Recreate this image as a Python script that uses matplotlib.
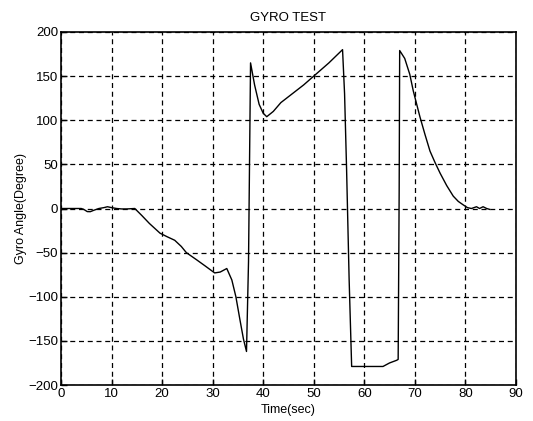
import matplotlib
matplotlib.use("Agg")
import matplotlib.pyplot as plt

# gyro angle trace
time_s = [0, 2, 4, 4.5, 5.2, 5.8, 6.5, 7.5, 8.5, 9.2, 10, 11, 12, 13, 14.6,
          16, 17.5, 19.6, 21, 22.5, 23.8, 24.8, 26.8, 28.5, 30.4, 31.5, 32.8,
          33.8, 34.6, 35.4, 36.1, 36.7, 37.1, 37.5, 38.3, 39.2, 40.0, 40.7,
          42, 43.5, 45.3, 48, 50.6, 53, 55.7, 56.1, 56.5, 57.0, 57.5, 60,
          63.7, 65, 66.4, 66.7, 66.9, 67.0, 68.0, 69.0, 69.7, 71.0, 72.0,
          73.0, 74.0, 75.0, 76.3, 77.6, 78.6, 79.6, 80.4, 81.2, 81.7, 82.2,
          82.8, 83.5, 84.2, 84.8]
angle_deg = [0, 0, 0, -1, -3.5, -3.6, -2, 0, 1, 2, 1, 0, -0.5, -0.5, 0,
             -8, -17, -28, -32, -36, -43, -50, -58, -65, -73, -72, -68,
             -81, -100, -126, -148, -162, -60, 165, 140, 118, 108, 104,
             110, 120, 128, 140, 153, 165, 180, 130, 44, -80, -179, -179,
             -179, -175, -172, -171, 20, 179, 170, 152, 133, 104, 84,
             65, 52, 40, 26, 14, 8, 4, 1, 0, 1, 2, 0, 2, 0, -1]

x_ticks = [0, 10, 20, 30, 40, 50, 60, 70, 80, 90]
y_ticks = [-200, -150, -100, -50, 0, 50, 100, 150, 200]

plt.rcParams["font.family"] = ["Liberation Sans", "DejaVu Sans"]

fig = plt.figure(figsize=(5.33, 4.21), dpi=100)
ax = fig.add_axes([0.1144, 0.0855, 0.8536, 0.8385])

ax.plot(time_s, angle_deg, color="black", linewidth=1.0)

ax.set_xlim(0, 90)
ax.set_ylim(-200, 200)
ax.set_xticks(x_ticks)
ax.set_yticks(y_ticks)
ax.tick_params(direction="in", length=4, labelsize=9.5, width=1, pad=2)
ax.grid(True, color="black", linestyle=(0, (4, 3)), linewidth=0.9)
for s in ax.spines.values():
    s.set_linewidth(1.2)

ax.set_title("GYRO TEST", fontsize=9.5, pad=8)
ax.set_xlabel("Time(sec)", fontsize=9, labelpad=3)
ax.set_ylabel("Gyro Angle(Degree)", fontsize=9, labelpad=1)

fig.savefig("out.png", dpi=100)
